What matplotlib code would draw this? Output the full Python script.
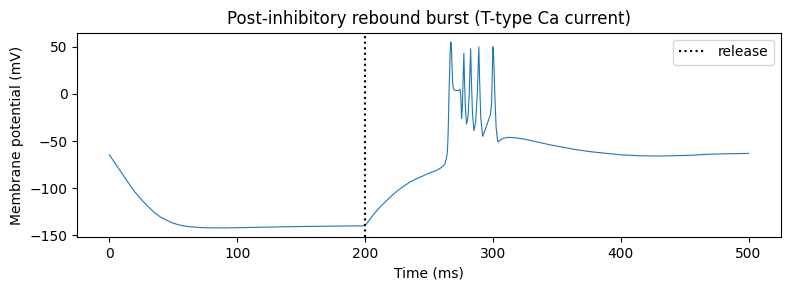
import matplotlib
matplotlib.use('Agg')
import matplotlib.pyplot as plt

# membrane trace (time in ms, voltage in mV)
time_ms = [0, 3, 6, 10, 15, 20, 25, 30, 35, 40, 45, 50, 55, 60, 65, 75, 90, 110, 130, 150, 180, 199,
           200, 202, 204, 206, 209, 212, 215, 218, 222, 226, 230, 235, 240, 245, 250, 255, 258.6,
           261, 262.5, 263.5, 264.3,
           264.8, 265.2, 265.6, 266, 266.5, 267, 267.5, 268, 268.5, 269, 270, 272, 273.5, 274.3,
           274.8, 275.5, 276, 276.6, 277.3, 277.8, 278.5, 279.4, 280.5, 281.5, 282.6, 283.2, 284,
           285.2, 286.5, 287.8, 289, 289.6, 290.5, 292, 294, 296, 298, 299, 299.5, 300, 300.6,
           301.5, 302.5, 303.5, 304.2, 305.5, 308, 312, 318, 325, 335, 345, 355, 365, 375, 389,
           400, 415, 430, 441, 455, 467, 480, 500]
voltage_mv = [-64.5, -70.5, -76.5, -84.5, -94.5, -104, -112, -119, -125.5, -130.5, -134, -137, -139,
              -140.3, -141, -141.8, -142, -141.5, -141, -140.5, -140, -139.8,
              -139.6, -136, -132.5, -129, -124, -119.5, -115.5, -111.5, -106.5, -102, -98, -93.5,
              -90, -87, -84, -81.5, -79,
              -76.5, -74, -69, -63,
              -50, -30, -5, 15, 40, 55, 53, 30, 12, 6, 4, 3.5, 4, 5,
              0, -26, -18, 10, 43, 15, -15, -32, -25, 0, 48, 15, -20,
              -39, -30, 0, 50, 15, -25, -45, -38, -30, -22, -10, 20, 50, 40,
              0, -35, -48, -51, -49, -47, -46, -46.5, -48, -51, -54, -56.5, -59, -61, -63,
              -64.5, -65.5, -65.8, -65.5, -65, -64, -63.5, -63]
release_ms = 200

fig, ax = plt.subplots(figsize=(7.9, 2.9), dpi=100)
ax.plot(time_ms, voltage_mv, lw=0.8)
ax.axvline(release_ms, color='k', ls=':', label='release')
ax.set_xlabel('Time (ms)')
ax.set_ylabel('Membrane potential (mV)')
ax.set_title('Post-inhibitory rebound burst (T-type Ca current)')
ax.legend(loc='upper right')
fig.subplots_adjust(left=0.098, right=0.988, top=0.887, bottom=0.182)
fig.savefig('out.png')
